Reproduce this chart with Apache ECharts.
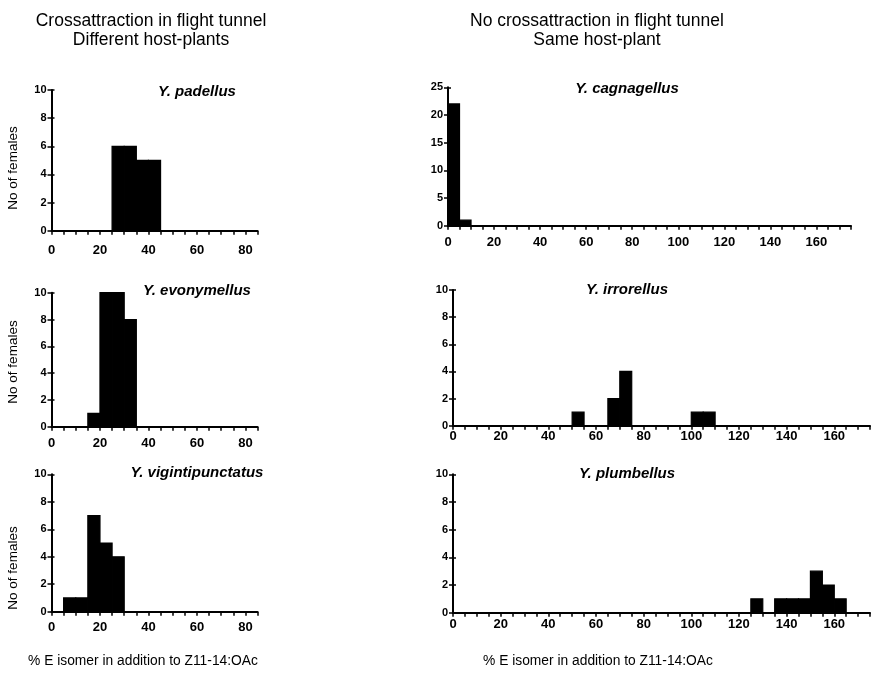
<!DOCTYPE html>
<html>
<head>
<meta charset="utf-8">
<script src="https://cdn.jsdelivr.net/npm/echarts@6/dist/echarts.min.js"></script>
<style>html,body{margin:0;padding:0;background:#fff}#c{width:873px;height:673px}</style>
</head>
<body>
<div id="c"></div>
<script>
// ---- data (bin start, % E isomer; counts = No of females) ----
const BIN_WIDTH = 5;
const padellusStarts = [25, 30, 35, 40];
const padellusCounts = [6, 6, 5, 5];
const evonymellusStarts = [15, 20, 25, 30];
const evonymellusCounts = [1, 10, 10, 8];
const vigintiStarts = [5, 10, 15, 20, 25];
const vigintiCounts = [1, 1, 7, 5, 4];
const cagnagellusStarts = [0, 5];
const cagnagellusCounts = [22, 1];
const irrorellusStarts = [50, 65, 70, 100, 105];
const irrorellusCounts = [1, 2, 4, 1, 1];
const plumbellusStarts = [125, 135, 140, 145, 150, 155, 160];
const plumbellusCounts = [1, 1, 1, 1, 3, 2, 1];
const speciesNames = ['Y. padellus', 'Y. evonymellus', 'Y. vigintipunctatus', 'Y. cagnagellus', 'Y. irrorellus', 'Y. plumbellus'];
const leftXTicks = [0, 20, 40, 60, 80];
const rightXTicks = [0, 20, 40, 60, 80, 100, 120, 140, 160];
const columnTitles = [['Crossattraction in flight tunnel', 'Different host-plants'], ['No crossattraction in flight tunnel', 'Same host-plant']];
const xAxisTitle = '% E isomer in addition to Z11-14:OAc';
const yAxisTitle = 'No of females';

// ---- layout ----
const FONT = 'Liberation Sans, Arial, Helvetica, sans-serif';
const panels = [
  {starts: padellusStarts, counts: padellusCounts, grid: {left: 51.5, top: 90, width: 206, height: 140.7}, xmax: 85, ymax: 10, yint: 2, ticks: leftXTicks, lm: 13},
  {starts: evonymellusStarts, counts: evonymellusCounts, grid: {left: 51.5, top: 292.7, width: 206, height: 134}, xmax: 85, ymax: 10, yint: 2, ticks: leftXTicks, lm: 10},
  {starts: vigintiStarts, counts: vigintiCounts, grid: {left: 51.5, top: 474.3, width: 206, height: 137.4}, xmax: 85, ymax: 10, yint: 2, ticks: leftXTicks, lm: 9.5},
  {starts: cagnagellusStarts, counts: cagnagellusCounts, grid: {left: 448, top: 87.3, width: 403, height: 138.4}, xmax: 175, ymax: 25, yint: 5, ticks: rightXTicks, lm: 10.5},
  {starts: irrorellusStarts, counts: irrorellusCounts, grid: {left: 453, top: 290, width: 419, height: 135.7}, xmax: 175, ymax: 10, yint: 2, ticks: rightXTicks, lm: 4},
  {starts: plumbellusStarts, counts: plumbellusCounts, grid: {left: 453, top: 474.3, width: 419, height: 138.4}, xmax: 175, ymax: 10, yint: 2, ticks: rightXTicks, lm: 5.5}
];
const speciesPos = [[197, 92], [197, 291], [197, 473], [627, 89], [627, 290], [627, 474]];

const grids = [], xAxes = [], yAxes = [], series = [];
panels.forEach((p, i) => {
  grids.push(Object.assign({containLabel: false}, p.grid));
  xAxes.push({
    type: 'value', gridIndex: i, min: 0, max: p.xmax, interval: 5,
    axisLine: {show: true, lineStyle: {color: '#000', width: 2}},
    axisTick: {show: true, length: 4, lineStyle: {color: '#000', width: 1.5}},
    splitLine: {show: false},
    axisLabel: {
      margin: p.lm, color: '#000', fontFamily: FONT, fontSize: 13, fontWeight: 'bold',
      showMaxLabel: true,
      formatter: v => (p.ticks.indexOf(v) >= 0 ? String(v) : '')
    }
  });
  yAxes.push({
    type: 'value', gridIndex: i, position: 'left', min: 0, max: p.ymax, interval: p.yint,
    axisLine: {show: true, lineStyle: {color: '#000', width: 2}},
    axisTick: {show: true, length: 4, lineStyle: {color: '#000', width: 1.5}},
    splitLine: {show: false},
    axisLabel: {margin: 5, color: '#000', fontFamily: FONT, fontSize: 11, fontWeight: 'bold'}
  });
  series.push({
    type: 'custom', xAxisIndex: i, yAxisIndex: i,
    data: p.starts.map((s, k) => [s, p.counts[k]]),
    encode: {x: 0, y: 1},
    renderItem: function (params, api) {
      const s = api.value(0), c = api.value(1);
      const p0 = api.coord([s, 0]);
      const p1 = api.coord([s + BIN_WIDTH, c]);
      return {type: 'rect', shape: {x: p0[0], y: p1[1], width: p1[0] - p0[0], height: p0[1] - p1[1]}, style: {fill: '#000', stroke: '#000', lineWidth: 1.2}};
    }
  });
});
// inner half of the crossing y ticks
panels.forEach((p, i) => {
  yAxes.push({
    type: 'value', gridIndex: i, position: 'left', offset: 0, min: 0, max: p.ymax, interval: p.yint,
    axisLine: {show: false},
    axisTick: {show: true, inside: true, length: 3, lineStyle: {color: '#000', width: 1.5}},
    axisLabel: {show: false}, splitLine: {show: false}
  });
});

const graphics = [];
const titleX = [151, 597];
columnTitles.forEach((lines, c) => {
  lines.forEach((t, l) => {
    graphics.push({type: 'text', x: titleX[c], y: 21 + l * 19, style: {text: t, font: '17.5px ' + FONT, fill: '#000', textAlign: 'center', textVerticalAlign: 'middle'}});
  });
});
speciesNames.forEach((n, i) => {
  graphics.push({type: 'text', x: speciesPos[i][0], y: speciesPos[i][1], style: {text: n, font: 'italic bold 15px ' + FONT, fill: '#000', textAlign: 'center', textVerticalAlign: 'middle'}});
});
[168, 362, 568].forEach(y => {
  graphics.push({type: 'text', x: 13, y: y, rotation: Math.PI / 2, style: {text: yAxisTitle, font: '13.5px ' + FONT, fill: '#000', textAlign: 'center', textVerticalAlign: 'middle'}});
});
[143, 598].forEach(x => {
  graphics.push({type: 'text', x: x, y: 661, style: {text: xAxisTitle, font: '13.8px ' + FONT, fill: '#000', textAlign: 'center', textVerticalAlign: 'middle'}});
});

const chart = echarts.init(document.getElementById('c'), null, {renderer: 'canvas'});
chart.setOption({
  animation: false,
  backgroundColor: '#fff',
  grid: grids, xAxis: xAxes, yAxis: yAxes, series: series,
  graphic: graphics
});
</script>
</body>
</html>
